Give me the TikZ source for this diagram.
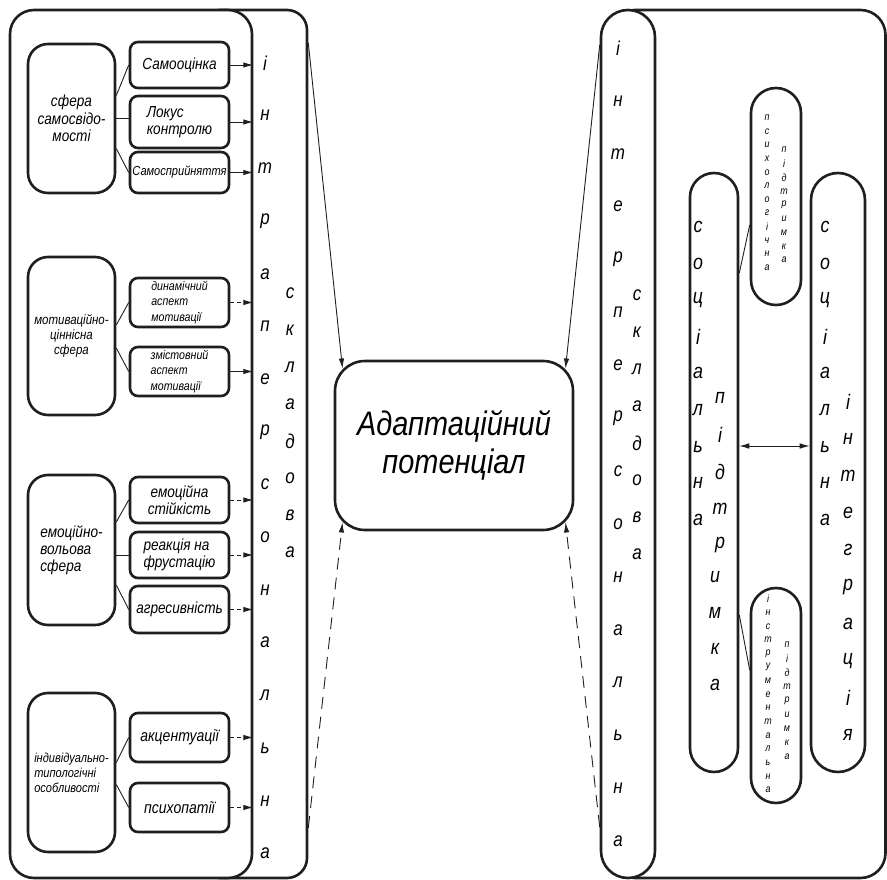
\documentclass[tikz,border=0pt]{standalone}
\usepackage{fontspec}
\setmainfont{Liberation Sans}[FakeStretch=0.85]
\usetikzlibrary{arrows.meta,calc}
\begin{document}
\begin{tikzpicture}[x=1pt,y=-1pt,
  font=\itshape,
  fs/.style 2 args={font=\itshape\fontsize{#1}{#2}\selectfont},
  frame/.style={draw=black!88, line width=2.6pt, inner sep=0pt},
  bigbox/.style={frame, rounded corners=20pt, fill=white, minimum width=87pt, align=center},
  smallbox/.style={frame, rounded corners=8pt, fill=white, minimum width=99pt, align=center},
  letter/.style={inner sep=0pt, fs={20}{22}},
  sletter/.style={inner sep=0pt, fs={21}{23}},
  tletter/.style={inner sep=0pt, fs={10.5}{11}},
  conn/.style={draw=black!88, line width=0.9pt},
  sarrow/.style={conn, -{Latex[length=10pt,width=5.5pt]}},
  darrow/.style={sarrow, dash pattern=on 4pt off 3pt},
  bigdash/.style={sarrow, dash pattern=on 12pt off 8pt}
]
\useasboundingbox (0,0) rectangle (887,880);

% ---------- left part ----------
\node[frame, rounded corners=20pt, minimum width=107pt, minimum height=868pt] (lcol) at (253.5,444) {};
\node[frame, rounded corners=24pt, minimum width=242pt, minimum height=868pt, fill=white] (lmain) at (131,444) {};

% group 1
\node[bigbox, minimum height=149pt, fs={16}{17.5}] (g1) at (71.5,118.5) {сфера\\самосвідо-\\мості};
\node[smallbox, minimum height=46pt, fs={16}{18}] (s11) at (179.5,65) {Самооцінка};
\node[smallbox, minimum height=52pt, fs={16}{17}, align=left] (s12) at (179.5,122) {Локус\\контролю};
\node[smallbox, minimum height=41pt, fs={13}{15}] (s13) at (179.5,172.5) {Самосприйняття};
\draw[conn] ([yshift=23pt]g1.east) -- (s11.west);
\draw[conn] (g1.east) -- (g1.east -| s12.west);
\draw[conn] ([yshift=-30pt]g1.east) -- (s13.west);
\draw[sarrow] (s11.east) -- (s11.east -| lmain.east);
\draw[sarrow] (s12.east) -- (s12.east -| lmain.east);
\draw[sarrow] (s13.east) -- (s13.east -| lmain.east);

% group 2
\node[bigbox, minimum height=158pt, fs={13.5}{15}] (g2) at (71.5,336) {мотиваційно-\\ціннісна\\сфера};
\node[smallbox, minimum height=49pt, fs={12.5}{15.5}, align=left] (s21) at (179.5,302.5) {динамічний\\аспект\\мотивації};
\node[smallbox, minimum height=49pt, fs={12.5}{15.5}, align=left] (s22) at (179.5,371.5) {змістовний\\аспект\\мотивації};
\draw[conn] ([yshift=11pt]g2.east) -- (s21.west);
\draw[conn] ([yshift=-12pt]g2.east) -- (s22.west);
\draw[darrow] (s21.east) -- (s21.east -| lmain.east);
\draw[sarrow] (s22.east) -- (s22.east -| lmain.east);

% group 3
\node[bigbox, minimum height=150pt, fs={16}{17}, align=left] (g3) at (71.5,550) {емоційно-\\вольова\\сфера};
\node[smallbox, minimum height=46pt, fs={16}{17}] (s31) at (179.5,500) {емоційна\\стійкість};
\node[smallbox, minimum height=46pt, fs={16}{17}, align=left] (s32) at (179.5,555) {реакція на\\фрустацію};
\node[smallbox, minimum height=47pt, fs={16}{17}] (s33) at (179.5,609.5) {агресивність};
\draw[conn] ([yshift=28pt]g3.east) -- (s31.west);
\draw[conn] ([yshift=-5pt]g3.east) -- (s32.west);
\draw[conn] ([yshift=-35pt]g3.east) -- (s33.west);
\draw[darrow] (s31.east) -- (s31.east -| lmain.east);
\draw[darrow] (s32.east) -- (s32.east -| lmain.east);
\draw[darrow] (s33.east) -- (s33.east -| lmain.east);

% group 4
\node[bigbox, minimum height=159pt, fs={13}{15}, align=left] (g4) at (71.5,772.5) {індивідуально-\\типологічні\\особливості};
\node[smallbox, minimum height=49pt, fs={16.5}{18}] (s41) at (179.5,737.5) {акцентуації};
\node[smallbox, minimum height=49pt, fs={16.5}{18}] (s42) at (179.5,807.5) {психопатії};
\draw[conn] ([yshift=10pt]g4.east) -- (s41.west);
\draw[conn] ([yshift=-12pt]g4.east) -- (s42.west);
\draw[darrow] (s41.east) -- (s41.east -| lmain.east);
\draw[darrow] (s42.east) -- (s42.east -| lmain.east);

% left column letters
\foreach \c [count=\i from 0] in {і,н,т,р,а,п,е,р,с,о,н,а,л,ь,н,а}
  \node[letter] (la\i) at (265, 63+\i*52.7) {\c};
\foreach \c [count=\i from 0] in {с,к,л,а,д,о,в,а}
  \node[letter] (lb\i) at (290, 293+\i*37) {\c};

% ---------- right part ----------
\node[frame, rounded corners=25pt, minimum width=275.5pt, minimum height=868pt] (rbox) at (747.75,444) {};
\node[frame, rounded corners=27pt, minimum width=54pt, minimum height=868pt, fill=white] (rpill) at (628,444) {};
\node[frame, rounded corners=24pt, minimum width=48pt, minimum height=599pt] (sp) at (714,472.5) {};
\node[frame, rounded corners=27pt, minimum width=54pt, minimum height=599pt] (si) at (838,472.5) {};
\node[frame, rounded corners=25pt, minimum width=50pt, minimum height=217pt] (pp) at (776,196.5) {};
\node[frame, rounded corners=25pt, minimum width=50pt, minimum height=215pt] (ip) at (776,695.5) {};

\foreach \c [count=\i from 0] in {і,н,т,е,р,п,е,р,с,о,н,а,л,ь,н,а}
  \node[letter] (ra\i) at (618, 48+\i*52.9) {\c};
\foreach \c [count=\i from 0] in {с,к,л,а,д,о,в,а}
  \node[letter] (rb\i) at (637, 295+\i*37) {\c};

\foreach \c [count=\i from 0] in {с,о,ц,і,а,л,ь,н,а}
  \node[sletter] (spa\i) at (698, 227+\i*36.6) {\c};
\foreach \c [count=\i from 0] in {п,і,д,т,р}
  \node[sletter] (spb\i) at (720, 398+\i*36.8) {\c};
\foreach \c [count=\i from 5] in {и,м,к,а}
  \node[sletter] (spb\i) at (715, 398+\i*35.9) {\c};

\foreach \c [count=\i from 0] in {с,о,ц,і,а,л,ь,н,а}
  \node[sletter] (sia\i) at (825, 227+\i*36.6) {\c};
\foreach \c [count=\i from 0] in {і,н,т,е,г,р,а,ц,і,я}
  \node[sletter] (sib\i) at (848, 402+\i*37) {\c};

\foreach \c [count=\i from 0] in {п,с,и,х,о,л,о,г,і,ч,н,а}
  \node[tletter] (ppa\i) at (767, 118+\i*13.6) {\c};
\foreach \c [count=\i from 0] in {п,і,д,т,р,и,м,к,а}
  \node[tletter] (ppb\i) at (784, 150+\i*13.75) {\c};

\foreach \c [count=\i from 0] in {і,н,с,т,р,у,м,е,н,т,а,л,ь,н,а}
  \node[tletter] (ipa\i) at (768, 599+\i*13.64) {\c};
\foreach \c [count=\i from 0] in {п,і,д,т,р,и,м,к,а}
  \node[tletter] (ipb\i) at (787, 645+\i*14) {\c};

\draw[conn] ([yshift=-28.5pt]pp.west) -- ([yshift=199.5pt]sp.east);
\draw[conn] ([yshift=25.5pt]ip.west) -- ([yshift=-142.5pt]sp.east);
\draw[conn, {Latex[length=10pt,width=5.5pt]}-{Latex[length=10pt,width=5.5pt]}] ([yshift=26.5pt]sp.east) -- ([yshift=26.5pt]si.west);

% ---------- centre ----------
\node[frame, rounded corners=30pt, minimum width=238pt, minimum height=169pt, fs={34}{38}, align=center] (ap) at (454,445.5) {Адаптаційний\\потенціал};

\draw[sarrow] ([yshift=401pt]lcol.east) -- ($(ap.north west)+(8.8,8.8)$);
\draw[sarrow] ([yshift=399pt]rpill.west) -- ($(ap.north east)+(-8.8,8.8)$);
\draw[bigdash] ([yshift=-384pt]lcol.east) -- ($(ap.south west)+(8.8,-8.8)$);
\draw[bigdash] ([yshift=-383pt]rpill.west) -- ($(ap.south east)+(-8.8,-8.8)$);
\end{tikzpicture}
\end{document}
